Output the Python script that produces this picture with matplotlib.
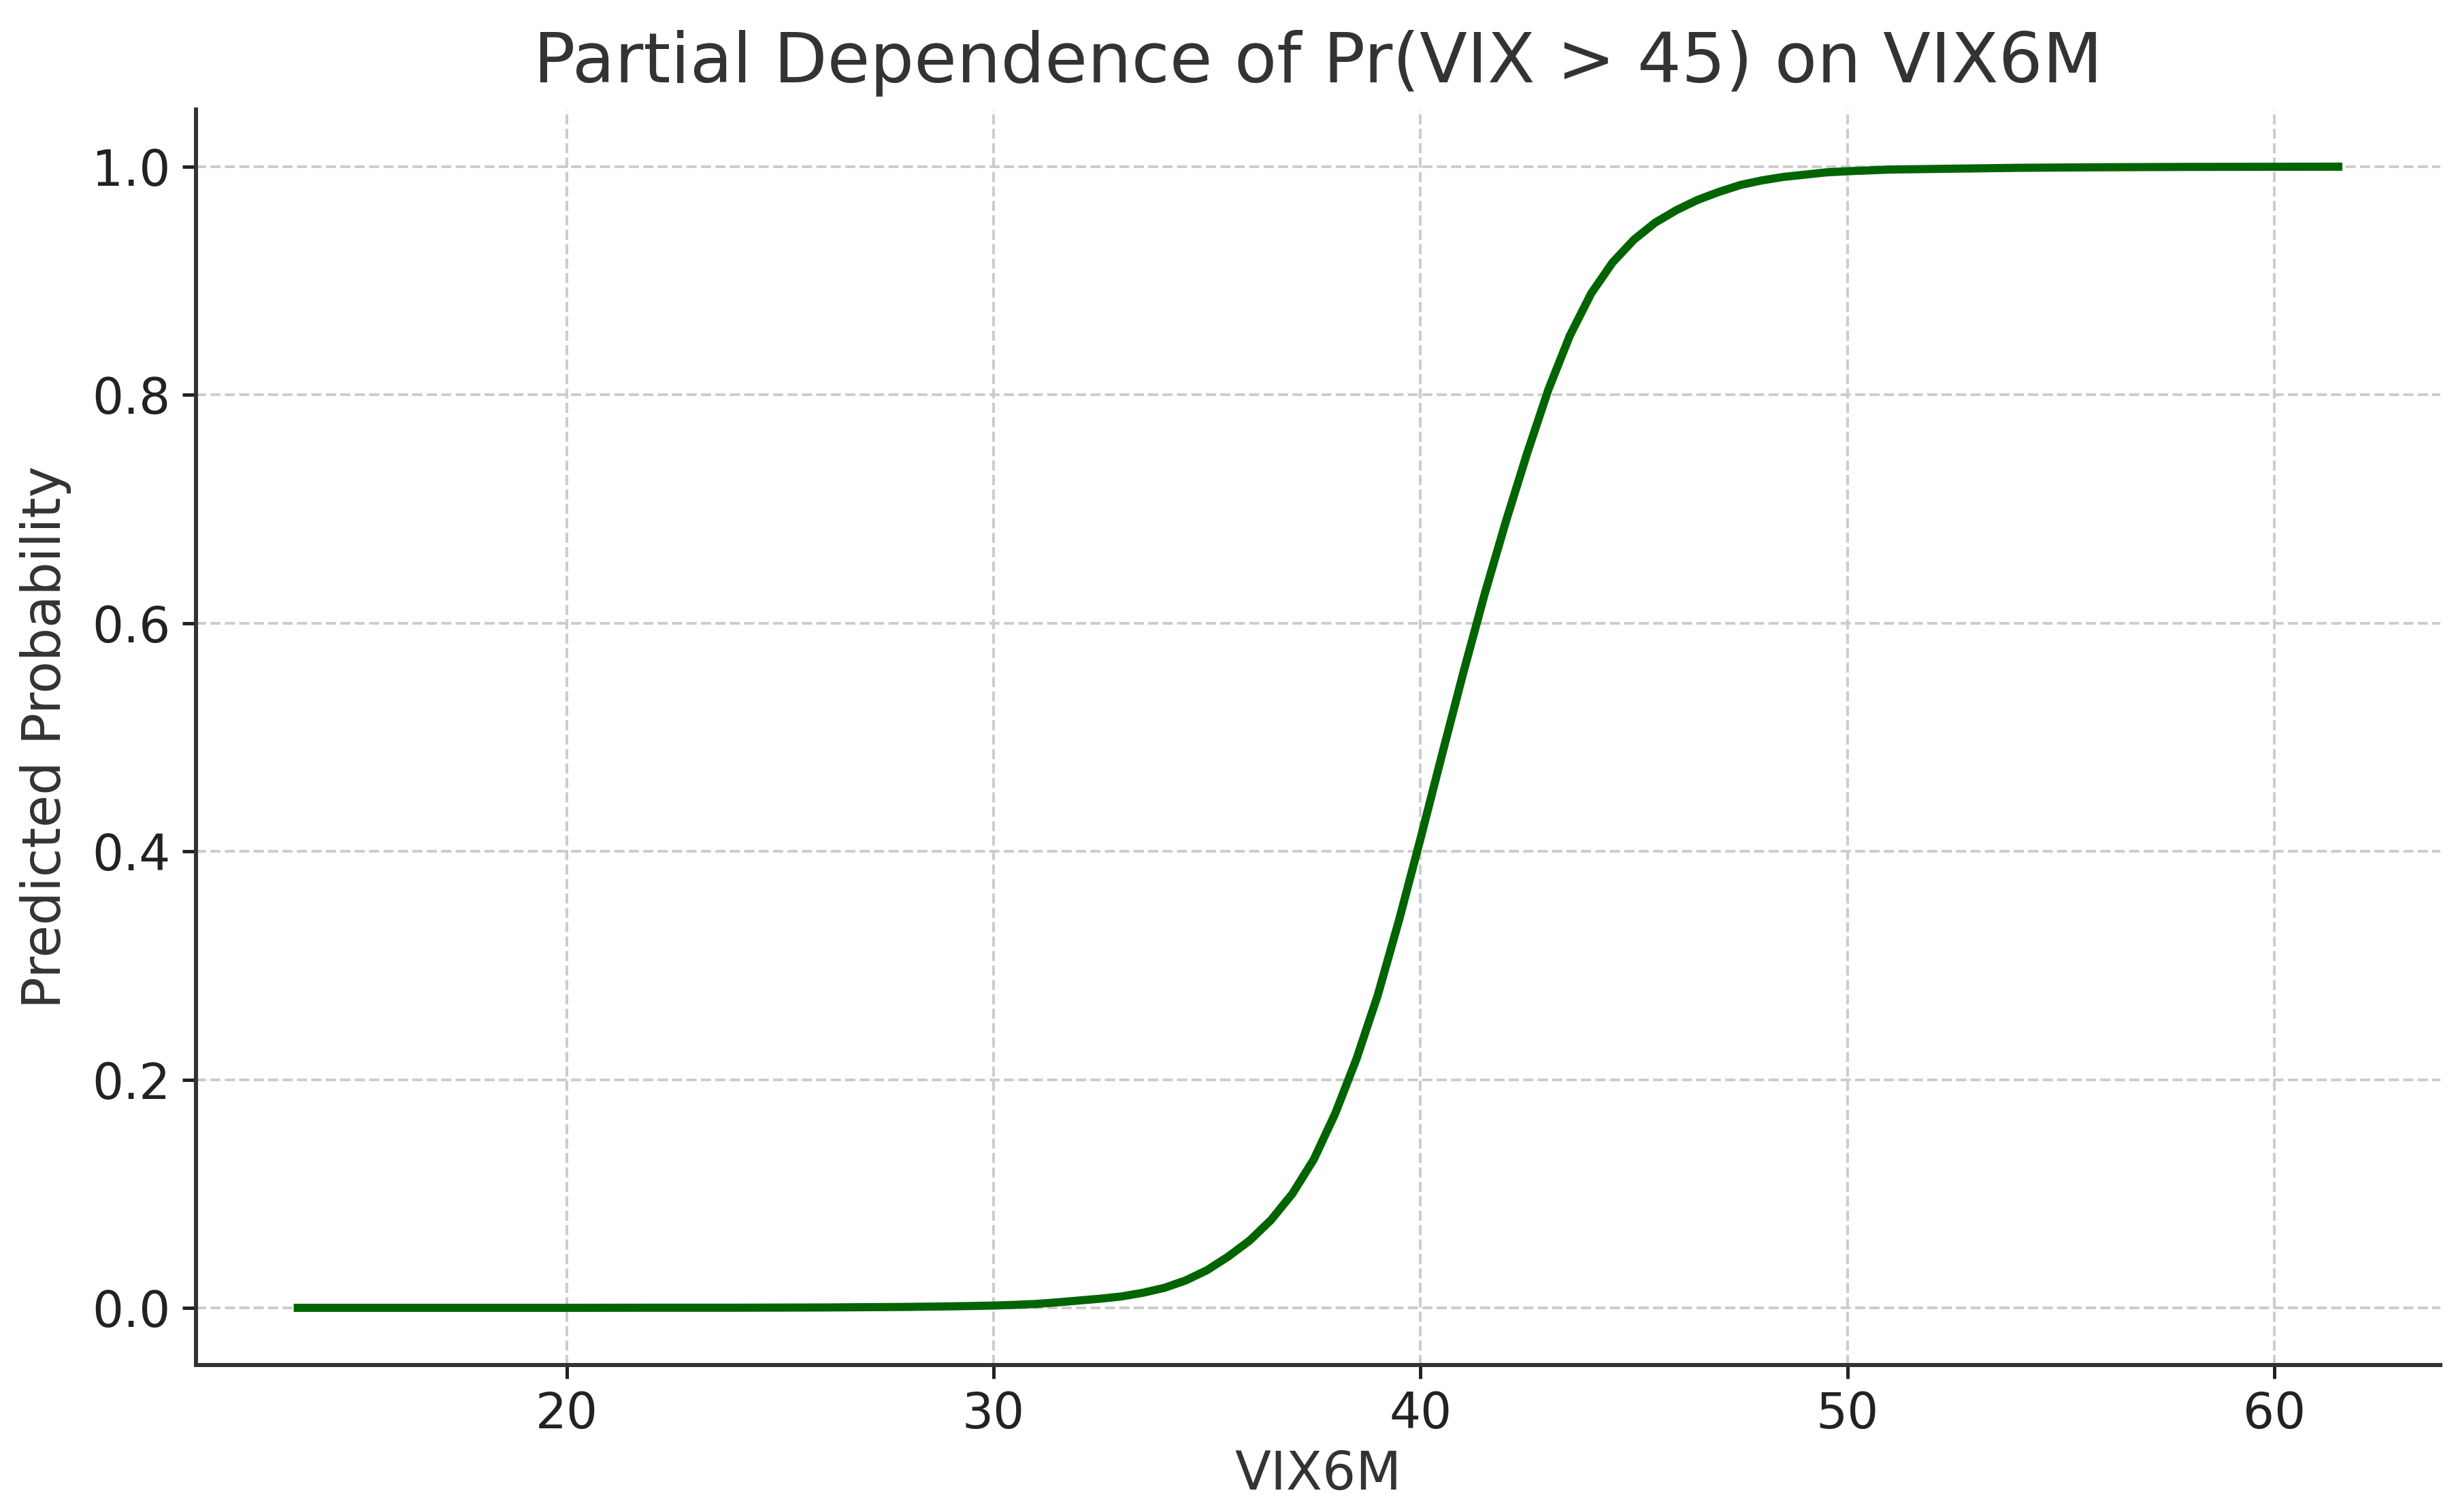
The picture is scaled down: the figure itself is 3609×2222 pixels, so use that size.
import matplotlib
matplotlib.use('Agg')
import matplotlib.pyplot as plt

vix6m = [13.7, 16, 18, 20, 22, 24, 26, 28, 29, 29.5,
         30, 30.5, 31, 31.5, 32, 32.5, 33, 33.5, 34, 34.5,
         35, 35.5, 36, 36.5, 37, 37.5, 38, 38.5, 39, 39.5,
         40, 40.5, 41, 41.5, 42, 42.5, 43, 43.5, 44, 44.5,
         45, 45.5, 46, 46.5, 47, 47.5, 48, 48.5, 49, 49.5,
         50, 51, 52, 54, 56, 58, 60, 61.5]
prob = [0.0, 0.0, 0.0, 0.0, 0.0001, 0.0001, 0.0003, 0.0008, 0.0013, 0.0016,
        0.0020, 0.0026, 0.0034, 0.0048, 0.0064, 0.0080, 0.0100, 0.0132, 0.0175, 0.0240,
        0.033, 0.045, 0.059, 0.077, 0.100, 0.130, 0.170, 0.218, 0.274, 0.340,
        0.411, 0.484, 0.556, 0.625, 0.689, 0.749, 0.805, 0.852, 0.889, 0.916,
        0.936, 0.951, 0.962, 0.971, 0.978, 0.984, 0.988, 0.991, 0.993, 0.995,
        0.996, 0.9975, 0.998, 0.999, 0.9995, 0.9998, 0.9999, 1.0]

titulo = 'Partial Dependence of Pr(VIX > 45) on VIX6M'
etiqueta_x = 'VIX6M'
etiqueta_y = 'Predicted Probability'

fig = plt.figure(figsize=(3609 / 360, 2222 / 360), dpi=360)
ax = fig.add_axes([0.0797, 0.0973, 0.9139, 0.8302])

ax.plot(vix6m, prob, color='darkgreen', linewidth=2.4)

ax.set_title(titulo, fontsize=20.4, color='#333333', pad=8)
ax.set_xlabel(etiqueta_x, fontsize=15.5, color='#333333', labelpad=3)
ax.set_ylabel(etiqueta_y, fontsize=15.5, color='#333333', labelpad=6)

ax.grid(True, linestyle='--', color='#cccccc', linewidth=0.8)
ax.set_axisbelow(True)
ax.spines['top'].set_visible(False)
ax.spines['right'].set_visible(False)
for s in ('left', 'bottom'):
    ax.spines[s].set_color('#333333')
    ax.spines[s].set_linewidth(1.2)
ax.tick_params(labelsize=14.5, colors='#222222', length=4, width=1)

fig.savefig('out.png', dpi=360)
